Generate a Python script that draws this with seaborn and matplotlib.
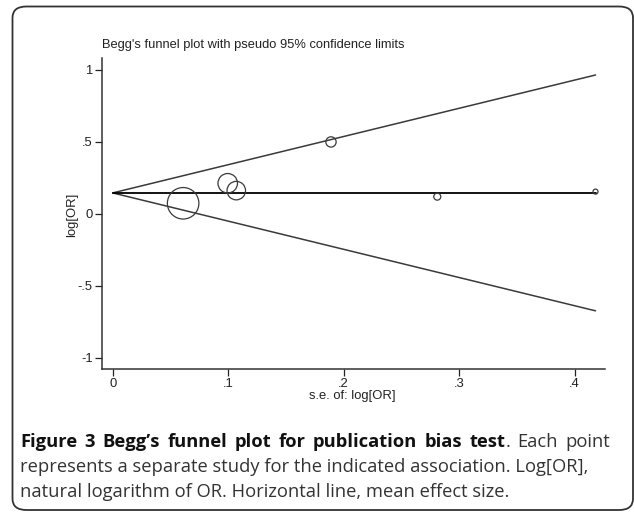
"""
Begg's funnel plot with pseudo 95% confidence limits (figure 3 recreation)
"""
import numpy as np
import matplotlib
matplotlib.use("Agg")
import matplotlib.pyplot as plt
from matplotlib.patches import FancyBboxPatch
import seaborn as sns

# study estimates
se_log_or = [0.061, 0.0996, 0.107, 0.189, 0.281, 0.418]
log_or = [0.074, 0.213, 0.162, 0.50, 0.12, 0.155]
marker_diam_px = [31.5, 19.5, 18.5, 10.3, 7.0, 5.0]

# mean effect and pseudo 95% limits (endpoints)
limit_se = [0.0, 0.418]
mean_line = [0.146, 0.146]
upper_limit = [0.146, 0.965]
lower_limit = [0.146, -0.673]

x_ticks = [0, 0.1, 0.2, 0.3, 0.4]
x_tick_labels = ["0", ".1", ".2", ".3", ".4"]
y_ticks = [-1, -0.5, 0, 0.5, 1]
y_tick_labels = ["-1", "-.5", "0", ".5", "1"]

W, H = 634, 514
CAP_FONT = ["Open Sans", "DejaVu Sans"]
CAP_SIZE = 13.2
CAP_COLOR = "#333333"

sns.set_theme(style="ticks")
plt.rcParams["font.family"] = ["Liberation Sans", "DejaVu Sans"]


def text_width(fig, renderer, s, weight):
    t = fig.text(0, 0, s, fontsize=CAP_SIZE, family=CAP_FONT, fontweight=weight)
    w = t.get_window_extent(renderer).width
    t.remove()
    return w


def justified_line(fig, x0, x1, y, tokens):
    """tokens: list of words, each a list of (text, weight) pieces; spread to fill x0..x1 px"""
    renderer = fig.canvas.get_renderer()
    widths = [[text_width(fig, renderer, s, wt) for s, wt in tok] for tok in tokens]
    total = sum(sum(w) for w in widths)
    gap = (x1 - x0 - total) / (len(tokens) - 1)
    x = x0
    for tok, ws in zip(tokens, widths):
        for (s, wt), w in zip(tok, ws):
            fig.text(x / W, 1 - y / H, s, ha="left", va="bottom", fontsize=CAP_SIZE,
                     family=CAP_FONT, fontweight=wt,
                     color="#111111" if wt == "bold" else CAP_COLOR)
            x += w
        x += gap


fig = plt.figure(figsize=(W / 100, H / 100), dpi=100)
ax = fig.add_axes([101.7 / W, 1 - 369 / H, (605 - 101.7) / W, (369 - 58) / H])

sns.lineplot(x=limit_se, y=upper_limit, color="#3a3a3a", linewidth=1.1, ax=ax)
sns.lineplot(x=limit_se, y=lower_limit, color="#3a3a3a", linewidth=1.1, ax=ax)
sns.lineplot(x=limit_se, y=mean_line, color="black", linewidth=1.3, ax=ax)

sizes = [(d * 0.72) ** 2 for d in marker_diam_px]
ax.scatter(se_log_or, log_or, s=sizes, facecolors="none", edgecolors="#3a3a3a",
           linewidths=0.9, zorder=3)

ax.set_xlim(-0.0095, 0.4262)
ax.set_ylim(-1.077, 1.083)
ax.set_xticks(x_ticks)
ax.set_xticklabels(x_tick_labels)
ax.set_yticks(y_ticks)
ax.set_yticklabels(y_tick_labels)
ax.tick_params(length=5, width=0.9, pad=1.5, labelsize=9.4, colors="#222222")
for side in ["top", "right"]:
    ax.spines[side].set_visible(False)
for side in ["left", "bottom"]:
    ax.spines[side].set_linewidth(1.1)
    ax.spines[side].set_color("#333333")
ax.set_xlabel("")
ax.set_ylabel("")

fig.text(101.7 / W, 1 - 45 / H, "Begg's funnel plot with pseudo 95% confidence limits",
         ha="left", va="center", fontsize=9.3, color="#222222")
fig.text(352 / W, 1 - 396 / H, "s.e. of: log[OR]", ha="center", va="center",
         fontsize=9.4, color="#222222")
fig.text(72 / W, 1 - 215 / H, "log[OR]", ha="center", va="center", rotation=90,
         fontsize=9.4, color="#222222")

# caption: first line spread to the right margin, the rest set ragged
bold_words = "Figure 3 Begg\u2019s funnel plot for publication bias".split()
line1 = [[(w, "bold")] for w in bold_words]
line1.append([("test", "bold"), (".", "normal")])
line1 += [[("Each", "normal")], [("point", "normal")]]
justified_line(fig, 20, 610, 451, line1)

fig.text(20 / W, 1 - 476 / H,
         "represents a separate study for the indicated association. Log[OR],",
         ha="left", va="bottom", fontsize=CAP_SIZE, family=CAP_FONT, color=CAP_COLOR)
fig.text(20 / W, 1 - 501 / H, "natural logarithm of OR. Horizontal line, mean effect size.",
         ha="left", va="bottom", fontsize=CAP_SIZE, family=CAP_FONT, color=CAP_COLOR)

box = FancyBboxPatch((12.5 / W, 1 - 510 / H), (633 - 12.5) / W, (510 - 6.5) / H,
                     boxstyle="round,pad=0,rounding_size=0.022", transform=fig.transFigure,
                     facecolor="none", edgecolor="#333333", linewidth=1.3, clip_on=False)
fig.patches.append(box)

fig.savefig("out.png", dpi=100)
